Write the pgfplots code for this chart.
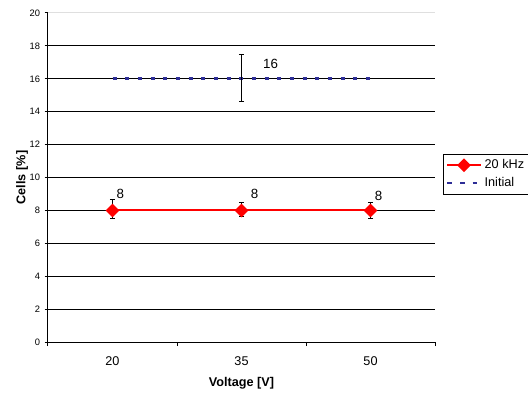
\documentclass[border=0pt]{standalone}
\usepackage{pgfplots}
\pgfplotsset{compat=1.18}
\usepackage{fontspec}
\setmainfont{Liberation Sans}
\definecolor{initblue}{RGB}{45,45,150}
\begin{document}
\begin{tikzpicture}
\path[use as bounding box] (-36pt,-41.25pt) rectangle (360pt,256.5pt);
\begin{axis}[
  scale only axis, width=290.25pt, height=246.75pt,
  xmin=-0.5, xmax=2.5, ymin=0, ymax=20,
  axis x line*=bottom, axis y line*=left,
  axis line style={black, line width=0.75pt},
  xtick={0,1,2}, xticklabels={20,35,50},
  major x tick style={draw=none},
  minor xtick={-0.5,0.5,1.5,2.5},
  minor x tick style={black, line width=0.75pt},
  minor tick length=3pt,
  tick align=outside,
  ytick={0,2,...,18},
  extra y ticks={20},
  extra y tick style={grid style={gray!25, line width=0.75pt}},
  major y tick style={black, line width=0.75pt},
  major tick length=2.5pt,
  ymajorgrids,
  grid style={black, line width=0.75pt},
  /pgf/number format/assume math mode=true,
  yticklabel style={font=\fontsize{7}{8}\selectfont},
  xticklabel style={font=\fontsize{9.5}{11}\selectfont, anchor=center, yshift=-12pt},
  xlabel={Voltage [V]},
  ylabel={Cells [\%]},
  label style={font=\bfseries\fontsize{9.5}{11}\selectfont},
  xlabel style={at={(axis description cs:0.5,-0.1246)}, anchor=center},
  ylabel style={at={(axis description cs:-0.0672,0.5)}, anchor=center},
  legend style={at={(1.0207,0.5714)}, anchor=north west, draw=black, line width=0.5pt,
    font=\fontsize{9.5}{11}\selectfont, inner xsep=2pt, inner ysep=2pt, row sep=1pt},
  legend cell align=left,
  legend image code/.code={\draw[mark repeat=2,mark phase=2] plot coordinates {(0pt,0pt) (12.5pt,0pt) (25pt,0pt)};},
  clip=false,
]
\addplot[red, line width=1.5pt, mark=square*, mark size=2.9pt, mark options={rotate=45, solid, fill=red},
  error bars/.cd, y dir=both, y explicit,
  error bar style={black, line width=0.75pt},
  error mark options={rotate=90, mark size=2pt, black, line width=0.75pt}]
  coordinates {
  (0,8) += (0,0.69) -= (0,0.52)
  (1,8) += (0,0.49) -= (0,0.40)
  (2,8) += (0,0.50) -= (0,0.52)
  };
\addlegendentry{20 kHz}
\addplot[initblue, line width=2pt, dash pattern=on 3.2pt off 6.3pt]
  coordinates {(0,16) (1,16) (2,16)};
\addlegendentry{Initial}
\addplot[draw=none, forget plot,
  error bars/.cd, y dir=both, y explicit,
  error bar style={black, line width=0.75pt},
  error mark options={rotate=90, mark size=2pt, black, line width=0.75pt}]
  coordinates {(1,16) += (0,1.49) -= (0,1.40)};
\begin{scope}[every node/.style={font=\fontsize{10}{12}\selectfont, inner sep=0pt, anchor=south west}]
\node at (axis cs:0,8) [xshift=2.8pt, yshift=9pt] {8};
\node at (axis cs:1,8) [xshift=6.8pt, yshift=8.3pt] {8};
\node at (axis cs:2,8) [xshift=3pt, yshift=7.3pt] {8};
\node at (axis cs:1,16) [xshift=16pt, yshift=7.1pt] {16};
\end{scope}
\end{axis}
\end{tikzpicture}
\end{document}
